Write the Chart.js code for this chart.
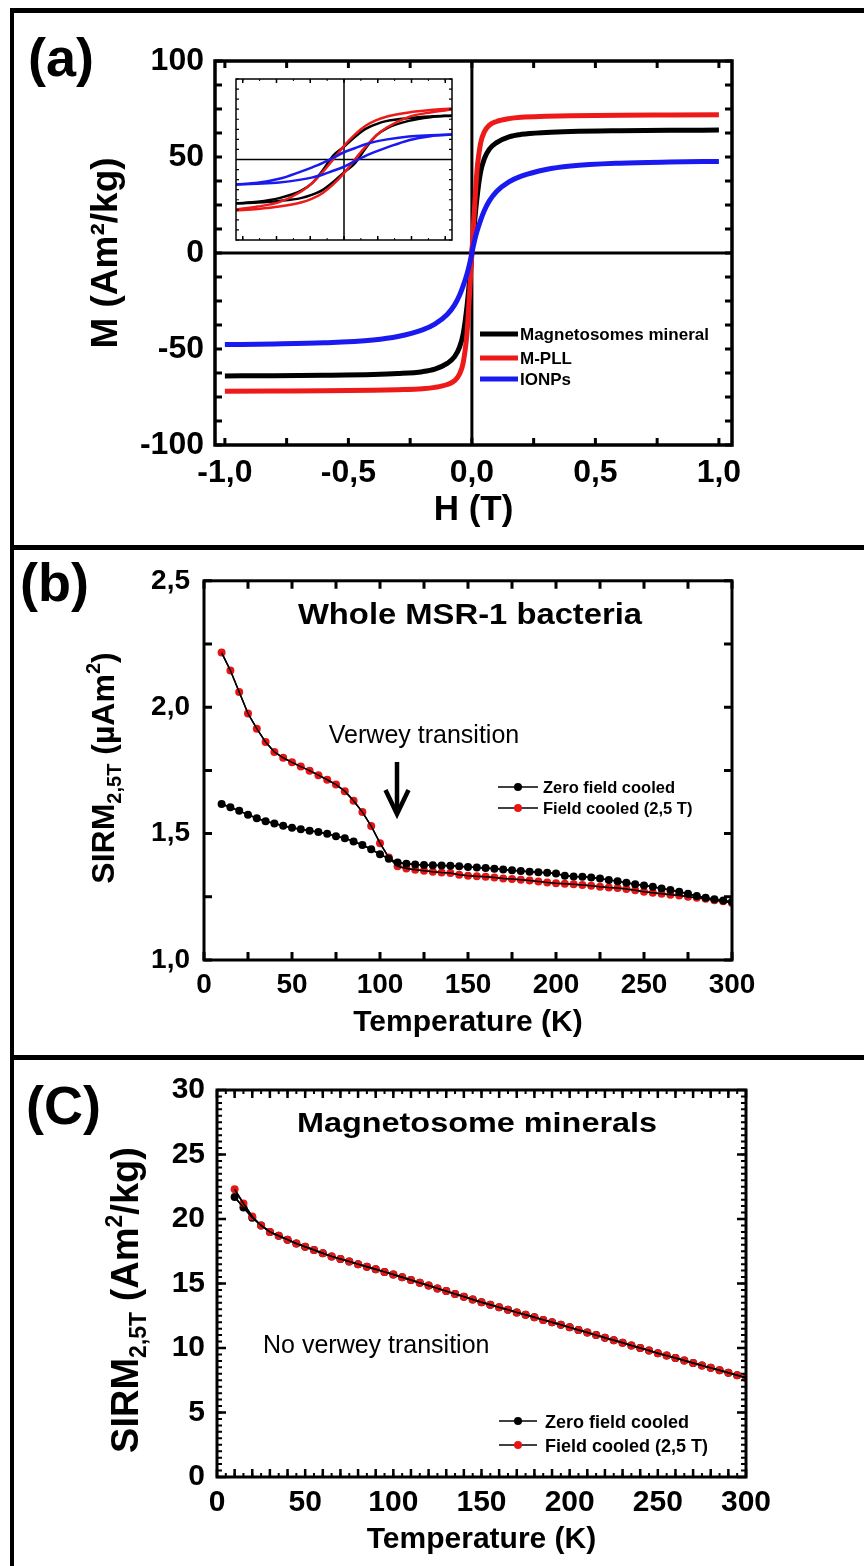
<!DOCTYPE html>
<html>
<head>
<meta charset="utf-8">
<title>Hysteresis and SIRM curves</title>
<script src="https://cdn.jsdelivr.net/npm/chart.js@4.4.1/dist/chart.umd.min.js"></script>
<style>
  html, body { margin: 0; padding: 0; background: #fff; }
  #page { position: relative; width: 864px; height: 1566px; overflow: hidden; background: #fff; }
  #page canvas { position: absolute; }
  .rule { position: absolute; background: #000; }
  .tag { position: absolute; font-family: "Liberation Sans", Arial, sans-serif; font-weight: bold; font-size: 54px; line-height: 54px; }
</style>
</head>
<body>
<div id="page">
  <div class="rule" style="left:10px; top:8px; width:854px; height:5px"></div>
  <div class="rule" style="left:10px; top:8px; width:4px; height:1558px"></div>
  <div class="rule" style="left:10px; top:545px; width:854px; height:5px"></div>
  <div class="rule" style="left:10px; top:1055px; width:854px; height:5px"></div>
  <div class="tag" style="left:28px; top:30px">(a)</div>
  <div class="tag" style="left:20px; top:555px">(b)</div>
  <div class="tag" style="left:26px; top:1078px">(C)</div>
  <canvas id="chartA" width="864" height="545" style="left:0; top:0"></canvas>
  <canvas id="inset" width="228" height="173" style="left:230px; top:73px"></canvas>
  <canvas id="chartB" width="864" height="505" style="left:0; top:550px"></canvas>
  <canvas id="chartC" width="864" height="506" style="left:0; top:1060px"></canvas>
</div>
<script>
// ---- panel (a): M(H) loops ----
const aSeriesNames = ['Magnetosomes mineral', 'M-PLL', 'IONPs'];
const aH = [-1, -0.8, -0.6, -0.4, -0.3, -0.2, -0.15, -0.1, -0.07, -0.05, -0.035, -0.02, -0.01, 0,
            0.01, 0.02, 0.035, 0.05, 0.07, 0.1, 0.15, 0.2, 0.3, 0.4, 0.6, 0.8, 1];
const aBlack = [-64, -63.9, -63.7, -63.3, -62.8, -61.8, -60.5, -57.5, -54, -49, -42, -28, -15, 0,
                15, 28, 42, 49, 54, 57.5, 60.5, 61.8, 62.8, 63.3, 63.7, 63.9, 64];
const aRed = [-72, -71.9, -71.8, -71.5, -71.2, -70.7, -70, -68.5, -66.5, -63, -57, -42, -22, 0,
              22, 42, 57, 63, 66.5, 68.5, 70, 70.7, 71.2, 71.5, 71.8, 71.9, 72];
const aBlue = [-47.7, -47.4, -46.8, -45.3, -43.5, -40, -37, -32, -27, -22, -17, -11, -6, 0,
               6, 11, 17, 22, 27, 32, 37, 40, 43.5, 45.3, 46.8, 47.4, 47.7];
const aXTicks = [-1, -0.5, 0, 0.5, 1];
const aXLabels = ['-1,0', '-0,5', '0,0', '0,5', '1,0'];
const aYTicks = [-100, -50, 0, 50, 100];
const aYLabels = ['-100', '-50', '0', '50', '100'];

// inset: low field part of the loops (no axis labels in the figure)
const insetH = [-32, -25.6, -19.2, -12.8, -9.6, -6.4, -3.2, 0, 3.2, 6.4, 9.6, 12.8, 19.2, 25.6, 32];
const insetBlackUp = [-21.8, -21, -19.2, -15.6, -12, -5.6, 2, 6.4, 11.2, 15.2, 17.6, 19.2, 20.6, 21.4, 21.8];
const insetBlackDown = [-21.8, -21.4, -20.6, -19.2, -17.6, -15.2, -11.2, -6.4, -2, 5.6, 12, 15.6, 19.2, 21, 21.8];
const insetRedUp = [-24.8, -23.4, -21.2, -16, -12, -6.4, 0, 6.8, 12.4, 16.8, 19.6, 21.4, 23.4, 24.6, 25.4];
const insetRedDown = [-25.4, -24.6, -23.4, -21.4, -19.6, -16.8, -12.4, -6.8, 0, 6.4, 12, 16, 21.2, 23.4, 24.8];
const insetBlueUp = [-12.4, -11.6, -9.6, -6, -4, -1.8, 0.8, 3.6, 5.6, 7.6, 9, 10, 11.4, 12, 12.4];
const insetBlueDown = [-12.4, -12, -11.4, -10, -9, -7.6, -5.6, -3.6, -0.8, 1.8, 4, 6, 9.6, 11.6, 12.4];

// ---- panels (b) and (c): SIRM vs temperature ----
const tempK = [10, 15, 20, 25, 30, 35, 40, 45, 50, 55, 60, 65, 70, 75, 80, 85, 90, 95, 100, 105,
               110, 115, 120, 125, 130, 135, 140, 145, 150, 155, 160, 165, 170, 175, 180, 185, 190, 195, 200, 205,
               210, 215, 220, 225, 230, 235, 240, 245, 250, 255, 260, 265, 270, 275, 280, 285, 290, 295, 300];
const sirmNames = ['Zero field cooled', 'Field cooled (2,5 T)'];

const bZfc = [1.617, 1.604, 1.590, 1.575, 1.561, 1.549, 1.540, 1.531, 1.523, 1.517,
              1.511, 1.506, 1.499, 1.490, 1.482, 1.469, 1.455, 1.438, 1.418, 1.401,
              1.386, 1.381, 1.378, 1.376, 1.375, 1.374, 1.373, 1.371, 1.368, 1.366,
              1.364, 1.361, 1.358, 1.355, 1.352, 1.349, 1.347, 1.345, 1.342, 1.333,
              1.330, 1.329, 1.326, 1.322, 1.316, 1.312, 1.306, 1.300, 1.295, 1.290,
              1.283, 1.277, 1.270, 1.262, 1.253, 1.246, 1.240, 1.235, 1.230];
const bFc = [2.216, 2.145, 2.060, 1.975, 1.915, 1.862, 1.823, 1.800, 1.782, 1.765,
             1.749, 1.731, 1.713, 1.694, 1.668, 1.630, 1.585, 1.530, 1.462, 1.405,
             1.371, 1.362, 1.357, 1.353, 1.349, 1.346, 1.344, 1.337, 1.333, 1.331,
             1.329, 1.326, 1.322, 1.320, 1.317, 1.314, 1.311, 1.307, 1.304, 1.302,
             1.300, 1.297, 1.294, 1.290, 1.287, 1.285, 1.281, 1.276, 1.270, 1.266,
             1.262, 1.258, 1.255, 1.250, 1.246, 1.242, 1.236, 1.232, 1.225];
const bXTicks = [0, 50, 100, 150, 200, 250, 300];
const bXLabels = ['0', '50', '100', '150', '200', '250', '300'];
const bYTicks = [1.0, 1.5, 2.0, 2.5];
const bYLabels = ['1,0', '1,5', '2,0', '2,5'];

const cZfc = [21.7, 20.9, 20.1, 19.5, 19.0, 18.7, 18.4, 18.1, 17.85, 17.6,
              17.35, 17.1, 16.9, 16.7, 16.5, 16.3, 16.1, 15.9, 15.7, 15.48,
              15.27, 15.05, 14.84, 14.62, 14.41, 14.19, 13.98, 13.76, 13.55, 13.35,
              13.15, 12.96, 12.76, 12.57, 12.38, 12.18, 11.99, 11.8, 11.6, 11.4,
              11.2, 11.0, 10.8, 10.6, 10.4, 10.2, 10.0, 9.8, 9.6, 9.41,
              9.22, 9.03, 8.84, 8.65, 8.46, 8.27, 8.08, 7.89, 7.7];
const cFc = [22.3, 21.2, 20.2, 19.5, 19.0, 18.7, 18.4, 18.1, 17.85, 17.6,
             17.35, 17.1, 16.9, 16.7, 16.5, 16.3, 16.1, 15.9, 15.7, 15.48,
             15.27, 15.05, 14.84, 14.62, 14.41, 14.19, 13.98, 13.76, 13.55, 13.35,
             13.15, 12.96, 12.76, 12.57, 12.38, 12.18, 11.99, 11.8, 11.6, 11.4,
             11.2, 11.0, 10.8, 10.6, 10.4, 10.2, 10.0, 9.8, 9.6, 9.41,
             9.22, 9.03, 8.84, 8.65, 8.46, 8.27, 8.08, 7.89, 7.7];
const cXTicks = [0, 50, 100, 150, 200, 250, 300];
const cXLabels = ['0', '50', '100', '150', '200', '250', '300'];
const cYTicks = [0, 5, 10, 15, 20, 25, 30];
const cYLabels = ['0', '5', '10', '15', '20', '25', '30'];

const SANS = '"Liberation Sans", Arial, Helvetica, sans-serif';
const BLACK = '#000000', RED = '#ee1a1a', BLUE = '#1a1af0', DOT_RED = '#e61616';

Chart.defaults.color = '#000';
Chart.defaults.font.family = SANS;

function xy(xs, ys) { return xs.map((x, i) => ({ x: x, y: ys[i] })); }

function text(ctx, s, x, y, font, align) {
  ctx.font = font;
  ctx.fillStyle = '#000';
  ctx.textAlign = align || 'left';
  ctx.textBaseline = 'alphabetic';
  ctx.fillText(s, x, y);
}

// the panel headings are set in a horizontally stretched bold face
function wideText(ctx, s, cx, y, font, sx) {
  ctx.save();
  ctx.translate(cx, y);
  ctx.scale(sx, 1);
  text(ctx, s, 0, 0, font, 'center');
  ctx.restore();
}

// rotated axis title with sub/superscripts: parts = [text, px, 0 normal | 1 sub | -1 sup]
function richV(ctx, cx, cy, parts) {
  const main = parts[0][1];
  ctx.save();
  ctx.translate(cx, cy);
  ctx.rotate(-Math.PI / 2);
  ctx.fillStyle = '#000';
  ctx.textAlign = 'left';
  ctx.textBaseline = 'alphabetic';
  let w = 0;
  parts.forEach(p => { ctx.font = 'bold ' + p[1] + 'px ' + SANS; w += ctx.measureText(p[0]).width; });
  let x = -w / 2;
  const base = main * 0.36;
  parts.forEach(p => {
    ctx.font = 'bold ' + p[1] + 'px ' + SANS;
    const y = base + (p[2] === 1 ? main * 0.22 : p[2] === -1 ? -main * 0.42 : 0);
    ctx.fillText(p[0], x, y);
    x += ctx.measureText(p[0]).width;
  });
  ctx.restore();
}

function dotLegend(ctx, rows, x0, x1, tx, font, capHalf) {
  rows.forEach(r => {
    ctx.strokeStyle = '#000';
    ctx.lineWidth = 1.5;
    ctx.beginPath(); ctx.moveTo(x0, r.y); ctx.lineTo(x1, r.y); ctx.stroke();
    ctx.fillStyle = r.color;
    ctx.beginPath(); ctx.arc((x0 + x1) / 2, r.y, 4, 0, Math.PI * 2); ctx.fill();
    text(ctx, r.label, tx, r.y + capHalf, font, 'left');
  });
}

// box, inward ticks on four sides, optional zero lines, extra drawing
function framePlugin(id, o) {
  return {
    id: id,
    beforeDatasetsDraw(chart) {
      if (!o.zero) return;
      const { ctx, chartArea: a, scales } = chart;
      const px = scales.x.getPixelForValue(0), py = scales.y.getPixelForValue(0);
      ctx.save();
      ctx.strokeStyle = '#000';
      ctx.lineWidth = o.zero;
      ctx.beginPath();
      ctx.moveTo(px, a.top); ctx.lineTo(px, a.bottom);
      ctx.moveTo(a.left, py); ctx.lineTo(a.right, py);
      ctx.stroke();
      ctx.restore();
    },
    afterDatasetsDraw(chart) {
      if (!o.linesOnTop) return;
      const { ctx, chartArea: a } = chart;
      ctx.save();
      ctx.beginPath(); ctx.rect(a.left, a.top, a.width, a.height); ctx.clip();
      chart.data.datasets.forEach((d, i) => {
        const el = chart.getDatasetMeta(i).dataset;
        if (el) el.draw(ctx, a);
      });
      ctx.restore();
    },
    afterDraw(chart) {
      const { ctx, chartArea: a, scales } = chart;
      ctx.save();
      ctx.strokeStyle = '#000';
      ctx.lineCap = 'butt';
      o.ticks.forEach(t => {
        const sc = scales[t.axis];
        ctx.lineWidth = t.lw;
        ctx.beginPath();
        const k0 = Math.ceil(sc.min / t.step - 1e-6), k1 = Math.floor(sc.max / t.step + 1e-6);
        for (let k = k0; k <= k1; k++) {
          const p = sc.getPixelForValue(k * t.step);
          if (t.axis === 'x') {
            ctx.moveTo(p, a.bottom); ctx.lineTo(p, a.bottom - t.len);
            ctx.moveTo(p, a.top); ctx.lineTo(p, a.top + t.len);
          } else {
            ctx.moveTo(a.left, p); ctx.lineTo(a.left + t.len, p);
            ctx.moveTo(a.right, p); ctx.lineTo(a.right - t.len, p);
          }
        }
        ctx.stroke();
      });
      ctx.lineWidth = o.border;
      ctx.strokeRect(a.left, a.top, a.width, a.height);
      if (o.extra) o.extra(ctx, chart);
      ctx.restore();
    }
  };
}

function axis(min, max, size, ticks, labels, fontSize, pad, title) {
  return {
    type: 'linear', min: min, max: max,
    afterFit: s => { if (s.isHorizontal()) s.height = size; else s.width = size; },
    afterBuildTicks: s => { s.ticks = ticks.map(v => ({ value: v })); },
    grid: { display: false, drawTicks: false },
    border: { display: false },
    ticks: { padding: pad, autoSkip: false, maxRotation: 0, font: { size: fontSize, weight: 'bold' },
             callback: (v, i) => labels[i] },
    title: title || { display: false }
  };
}

function baseOptions(padding, scales) {
  return {
    responsive: false, animation: false, events: [],
    layout: { padding: padding },
    plugins: { legend: { display: false }, tooltip: { enabled: false } },
    scales: scales
  };
}

// panel (a)
function mCurve(label, ys, color, order) {
  return { label: label, data: xy(aH, ys), borderColor: color, borderWidth: 5, pointRadius: 0,
           cubicInterpolationMode: 'monotone', order: order };
}
new Chart(document.getElementById('chartA'), {
  type: 'line',
  data: { datasets: [
    mCurve(aSeriesNames[0], aBlack, BLACK, 2),
    mCurve(aSeriesNames[1], aRed, RED, 1),
    mCurve(aSeriesNames[2], aBlue, BLUE, 0)
  ] },
  options: baseOptions({ left: 0, right: 132, top: 61, bottom: 0 }, {
    x: axis(-1.04, 1.053, 100, aXTicks, aXLabels, 32, 9,
            { display: true, text: 'H (T)', font: { size: 35, weight: 'bold' }, padding: { top: 0, bottom: 14 } }),
    y: axis(-100, 100, 215, aYTicks, aYLabels, 32, 11,
            { display: true, text: 'M (Am²/kg)', font: { size: 37, weight: 'bold' }, padding: { top: 85, bottom: 0 } })
  }),
  plugins: [framePlugin('frameA', {
    border: 3.5, zero: 3,
    ticks: [{ axis: 'x', step: 0.25, len: 7, lw: 3 }, { axis: 'y', step: 12.5, len: 7, lw: 3 }],
    extra: ctx => {
      [[aSeriesNames[0], BLACK, 334], [aSeriesNames[1], RED, 358], [aSeriesNames[2], BLUE, 379]].forEach(r => {
        ctx.strokeStyle = r[1];
        ctx.lineWidth = 5;
        ctx.beginPath(); ctx.moveTo(480, r[2]); ctx.lineTo(518, r[2]); ctx.stroke();
        text(ctx, r[0], 520, r[2] + 6, 'bold 17px ' + SANS, 'left');
      });
    }
  })]
});

// inset of panel (a)
function loopPart(ys, color, order) {
  return { data: xy(insetH, ys), borderColor: color, borderWidth: 2.5, pointRadius: 0,
           cubicInterpolationMode: 'monotone', order: order };
}
new Chart(document.getElementById('inset'), {
  type: 'line',
  data: { datasets: [
    loopPart(insetBlackUp, BLACK, 2), loopPart(insetBlackDown, BLACK, 2),
    loopPart(insetRedUp, RED, 1), loopPart(insetRedDown, RED, 1),
    loopPart(insetBlueUp, BLUE, 0), loopPart(insetBlueDown, BLUE, 0)
  ] },
  options: baseOptions(6, {
    x: { type: 'linear', display: false, min: -32, max: 32 },
    y: { type: 'linear', display: false, min: -40, max: 40 }
  }),
  plugins: [framePlugin('frameInset', {
    border: 1.5, zero: 1.5,
    ticks: [{ axis: 'x', step: 10, len: 4, lw: 1.5 }, { axis: 'x', step: 5, len: 2, lw: 1 },
            { axis: 'y', step: 5, len: 3, lw: 1.2 }]
  })]
});

// panels (b) and (c)
function sirm(label, ys, dot, order) {
  return { label: label, data: xy(tempK, ys), borderColor: '#000', borderWidth: 1.5,
           pointRadius: 4, pointBackgroundColor: dot, pointBorderColor: dot, pointBorderWidth: 0, order: order };
}
new Chart(document.getElementById('chartB'), {
  type: 'line',
  data: { datasets: [sirm(sirmNames[0], bZfc, BLACK, 0), sirm(sirmNames[1], bFc, DOT_RED, 1)] },
  options: baseOptions({ left: 0, right: 132, top: 20, bottom: 0 }, {
    x: axis(0, 300, 95, bXTicks, bXLabels, 28, 8,
            { display: true, text: 'Temperature (K)', font: { size: 30, weight: 'bold' }, padding: { top: 0, bottom: 14 } }),
    y: axis(1.0, 2.5, 204, bYTicks, bYLabels, 28, 14)
  }),
  plugins: [framePlugin('frameB', {
    border: 3, linesOnTop: true,
    ticks: [{ axis: 'x', step: 25, len: 8, lw: 3 }, { axis: 'y', step: 0.25, len: 8, lw: 3 }],
    extra: ctx => {
      wideText(ctx, 'Whole MSR-1 bacteria', 470, 74, 'bold 29px ' + SANS, 1.13);
      text(ctx, 'Verwey transition', 424, 193, '25px ' + SANS, 'center');
      ctx.strokeStyle = '#000';
      ctx.lineWidth = 4.5;
      ctx.beginPath(); ctx.moveTo(397, 212); ctx.lineTo(397, 261); ctx.stroke();
      ctx.lineJoin = 'miter';
      ctx.beginPath(); ctx.moveTo(385.5, 240); ctx.lineTo(397, 264); ctx.lineTo(408.5, 240); ctx.stroke();
      dotLegend(ctx, [{ y: 237, color: BLACK, label: sirmNames[0] }, { y: 258, color: DOT_RED, label: sirmNames[1] }],
                498, 538, 543, 'bold 16.5px ' + SANS, 6);
      richV(ctx, 102, 218, [['SIRM', 32, 0], ['2,5T', 20, 1], [' (µAm', 32, 0], ['2', 20, -1], [')', 32, 0]]);
    }
  })]
});

new Chart(document.getElementById('chartC'), {
  type: 'line',
  data: { datasets: [sirm(sirmNames[0], cZfc, BLACK, 1), sirm(sirmNames[1], cFc, DOT_RED, 0)] },
  options: baseOptions({ left: 0, right: 118, top: 28, bottom: 0 }, {
    x: axis(0, 300, 89, cXTicks, cXLabels, 30, 8,
            { display: true, text: 'Temperature (K)', font: { size: 30, weight: 'bold' }, padding: { top: 0, bottom: 8 } }),
    y: axis(0, 30, 217, cYTicks, cYLabels, 30, 12)
  }),
  plugins: [framePlugin('frameC', {
    border: 3, linesOnTop: true,
    ticks: [{ axis: 'x', step: 10, len: 8, lw: 2.5 }, { axis: 'x', step: 5, len: 4, lw: 2 },
            { axis: 'y', step: 5, len: 9, lw: 2.5 }, { axis: 'y', step: 0.5, len: 5, lw: 2 }],
    extra: ctx => {
      wideText(ctx, 'Magnetosome minerals', 477, 72, 'bold 27px ' + SANS, 1.2);
      text(ctx, 'No verwey transition', 263, 293, '25px ' + SANS, 'left');
      dotLegend(ctx, [{ y: 361, color: BLACK, label: sirmNames[0] }, { y: 385, color: DOT_RED, label: sirmNames[1] }],
                499, 537, 545, 'bold 18px ' + SANS, 6.5);
      richV(ctx, 124, 240, [['SIRM', 38, 0], ['2,5T', 23, 1], [' (Am', 38, 0], ['2', 23, -1], ['/kg)', 38, 0]]);
    }
  })]
});
</script>
</body>
</html>
